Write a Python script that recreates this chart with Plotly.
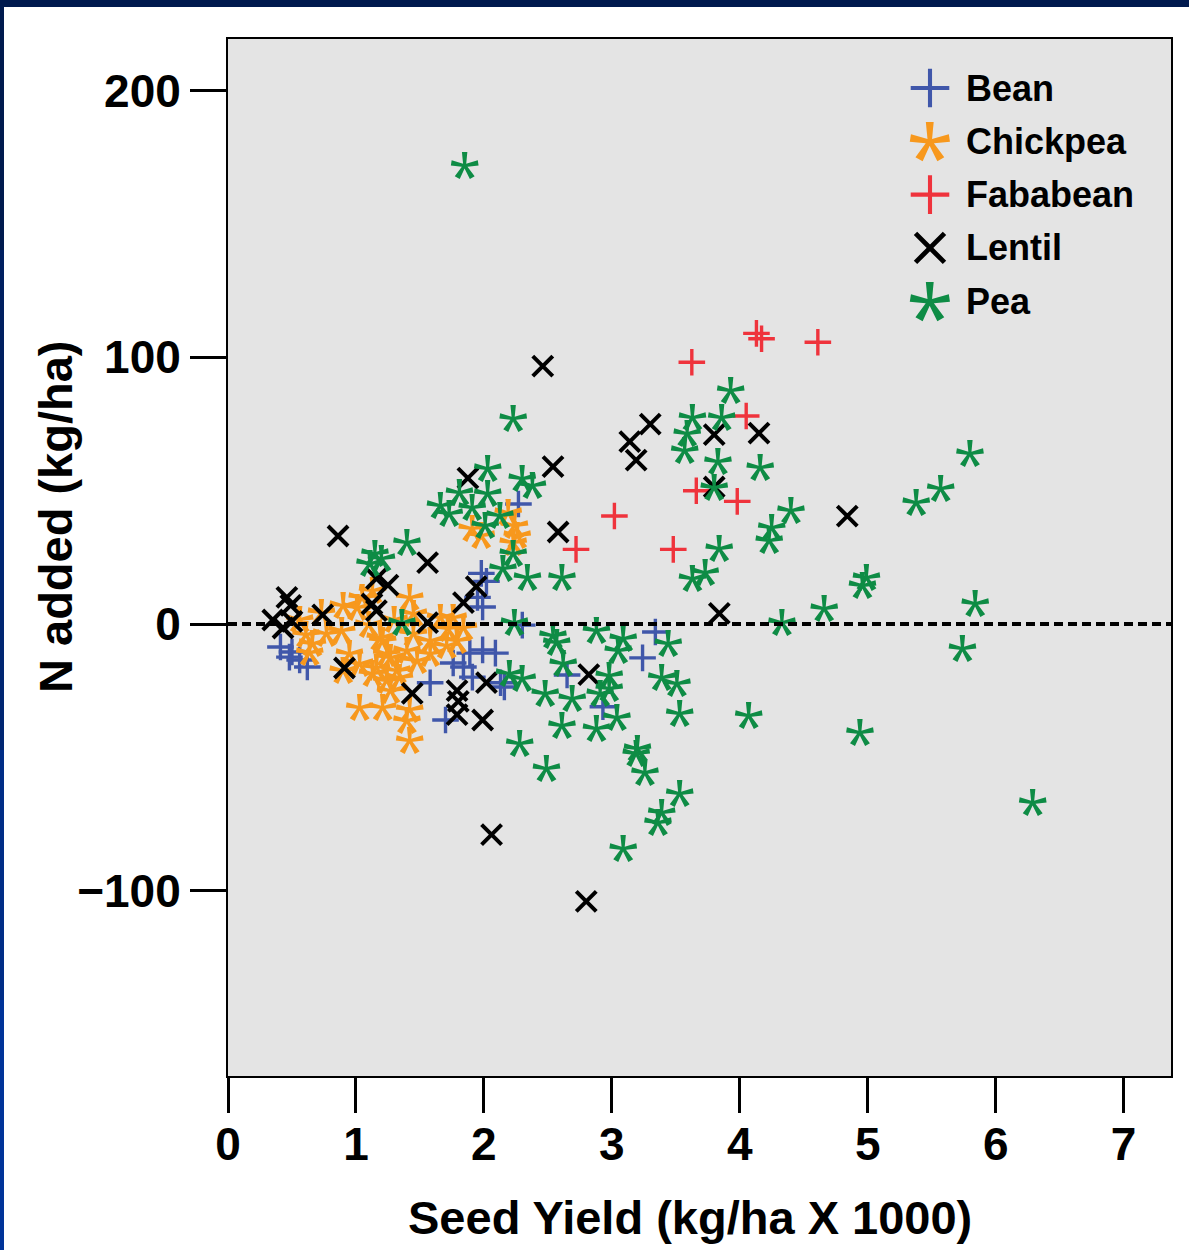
import plotly.graph_objects as go

# ---------------- data ----------------
species = ["Bean", "Chickpea", "Fababean", "Lentil", "Pea"]
colors = ["#4057AA", "#F7981D", "#EF333C", "#000000", "#0E8C45"]
kinds = ["plus", "star", "plus", "x", "star"]

bean_x = [0.41, 0.50, 0.48, 0.56, 0.62, 2.27, 1.98, 2.02, 1.95, 1.99, 2.30, 1.99, 2.09,
          1.89, 1.76, 1.84, 1.91, 2.13, 1.58, 1.70, 2.16, 2.65, 2.93, 3.24, 3.34]
bean_y = [-8.6, -10.5, -12.4, -13.5, -16.1, 45, 19, 16, 10, 6.4, -0.4, -9.7, -10.9,
          -10.9, -14.6, -16.1, -19.9, -22, -22, -36, -23.6, -19.1, -31, -12.7, -3]

chickpea_x = [0.61, 0.66, 0.64, 0.77, 0.73, 0.90, 1.01, 0.89, 0.95, 0.90, 1.03, 1.13, 1.19,
              1.24, 1.16, 1.24, 1.32, 1.21, 1.27, 1.34, 1.40, 1.45, 1.45, 1.48, 1.58, 1.58,
              1.72, 1.76, 1.84, 1.79, 1.03, 1.21, 1.42, 1.40, 1.42, 1.27, 1.13, 1.05, 1.42,
              1.91, 1.98, 2.19, 2.24, 2.26, 2.23, 0.56, 1.66, 1.71, 1.30, 1.10]
chickpea_y = [-3.7, -7.1, -10.5, -3.4, 4.5, 7.1, 6.4, -2.2, -10.9, -17.2, -14.6, -18.4, -4.9,
              -10.9, -16.1, -21, -17.2, -6, -12.4, -19.9, -9.7, 4.1, -3.4, -13.5, -10.9, -6,
              -1.5, 2.6, -1.1, -6, -31, -31, -32, -36, -43.5, -24.7, 12.7, 10, 10,
              36, 33.4, 42, 37, 33.4, 30.7, 2, 2.6, -8, 2, 0]

fababean_x = [3.625, 4.13, 4.17, 4.61, 4.05, 3.66, 3.98, 3.02, 2.72, 3.48]
fababean_y = [98.2, 109, 107, 105.7, 78, 50, 46, 40.5, 28, 28]

lentil_x = [2.46, 3.30, 3.14, 3.19, 3.80, 4.15, 3.80, 2.54, 1.875, 2.58, 4.84, 3.84, 0.86,
            1.56, 1.94, 1.84, 1.56, 0.35, 0.43, 0.50, 0.46, 0.49, 0.74, 1.16, 1.25, 1.125,
            1.16, 0.91, 1.44, 2.02, 1.79, 1.80, 1.79, 1.99, 2.06, 2.80, 2.82]
lentil_y = [96.7, 75, 68.4, 61.5, 71, 71.6, 51.4, 59, 54.7, 34.5, 40.5, 4, 33,
            23, 14, 8, 0.5, 1.5, -1.5, 1, 10, 7, 3.4, 17, 14.6, 7.5,
            5, -16.5, -26, -22, -25, -29, -34, -36, -79, -104, -19]

pea_x = [1.85, 3.93, 3.63, 3.86, 3.59, 3.57, 3.83, 4.16, 3.80, 4.40, 4.25, 4.23, 3.84, 3.73,
         3.63, 2.23, 2.03, 2.30, 2.38, 1.81, 1.66, 1.73, 2.03, 1.91, 2.125, 2.01, 2.23, 2.15,
         2.34, 2.61, 1.40, 4.66, 4.33, 2.24, 5.80, 5.57, 5.38, 4.99, 4.96, 5.84, 5.74, 4.07,
         4.94, 6.29, 2.54, 2.57, 2.88, 3.09, 3.05, 3.44, 2.62, 2.20, 2.30, 2.48, 2.69, 2.98,
         2.91, 2.98, 3.39, 3.51, 3.53, 3.04, 2.61, 2.88, 2.28, 2.49, 3.20, 3.19, 3.26, 3.53,
         3.39, 3.36, 3.09, 1.15, 1.20, 1.11, 1.36]
pea_y = [172, 87.7, 77.6, 77.6, 71.6, 65.2, 61.1, 58.9, 51.4, 42.7, 36.4, 31.5, 28.5, 19.5,
         17.2, 77.2, 58.5, 54.7, 52.1, 49.5, 44.6, 41.6, 49.1, 43.9, 40.9, 37.1, 26.6, 21.0,
         17.6, 17.6, 30.7, 6, 0.8, 0.8, 64, 51, 45.7, 17.6, 14.6, 7.9, -9, -34,
         -40.5, -66.7, -4, -6.7, -2.2, -5.4, -9.7, -7.2, -14.7, -18.4, -20.2, -26, -27.9, -19,
         -26, -24, -20, -22, -33.5, -35, -38, -39, -44.6, -54, -46.5, -48.4, -55.5, -63.4,
         -70.5, -74.2, -84, 26.6, 24.7, 22.9, 0.8]

xs_all = [bean_x, chickpea_x, fababean_x, lentil_x, pea_x]
ys_all = [bean_y, chickpea_y, fababean_y, lentil_y, pea_y]

x_ticks = [0, 1, 2, 3, 4, 5, 6, 7]
y_ticks = [-100, 0, 100, 200]
x_title = "Seed Yield (kg/ha X 1000)"
y_title = "N added (kg/ha)"

# ---------------- layout constants ----------------
W, H = 1189, 1250
ML, MR, MT, MB = 228, 18, 39, 174
PW, PH = W - ML - MR, H - MT - MB
FONT = "Liberation Sans, Arial, Helvetica, sans-serif"
STAR_FONT = "Open Sans"
STAR_CENTER = 0.55   # height of the asterisk glyph centre above the baseline, in em


def marker_traces(xs, ys, color, kind, scale, xa="x", ya="y"):
    """Scatter traces for one marker style (plus, x, or five-armed asterisk)."""
    if kind == "star":
        fa = int(round(60 * scale))                 # glyph font size
        fm = fa * STAR_CENTER / 0.9                 # line font size that centres the glyph
        txt = "\u00a0<br><span style='font-size:%dpx'>*</span>" % fa
        return [go.Scatter(x=xs, y=ys, mode="text", text=[txt] * len(xs),
                           textposition="middle center", xaxis=xa, yaxis=ya,
                           showlegend=False, hoverinfo="x+y",
                           textfont=dict(family=STAR_FONT, size=fm, color=color, weight=400))]
    if kind == "plus":
        sym, size, lw = "cross-thin", 19 * scale, 3.4 * scale ** 0.5
    else:
        sym, size, lw = "x-thin", 20 * scale, 4.0 * scale ** 0.5
    return [go.Scatter(x=xs, y=ys, mode="markers", xaxis=xa, yaxis=ya, showlegend=False,
                       marker=dict(symbol=sym, size=size, color=color,
                                   line=dict(width=lw, color=color)))]


fig = go.Figure()
for xs, ys, c, k in zip(xs_all, ys_all, colors, kinds):
    for t in marker_traces(xs, ys, c, k, 1.0):
        fig.add_trace(t)

# ---------------- legend drawn on an overlay axis measured in pixels ----------------
leg_x0 = 930 - ML
leg_text_x = 964 - ML
leg_y0 = 88 - MT
leg_step = 53.3
for i, (name, c, k) in enumerate(zip(species, colors, kinds)):
    yy = leg_y0 + i * leg_step
    for t in marker_traces([leg_x0], [yy], c, k, 1.45, xa="x2", ya="y2"):
        fig.add_trace(t)
    fig.add_annotation(x=leg_text_x, y=yy, xref="x2", yref="y2", text=name,
                       showarrow=False, xanchor="left", yanchor="middle",
                       font=dict(family=FONT, size=36, color="black", weight="bold"))

axis_common = dict(showgrid=False, zeroline=False, showline=True, linecolor="black",
                   linewidth=2, mirror=True, ticks="outside", tickcolor="black",
                   tickwidth=2.5,
                   tickfont=dict(family=FONT, size=46, color="black", weight="bold"))

fig.update_layout(
    width=W, height=H,
    margin=dict(l=ML, r=MR, t=MT, b=MB, autoexpand=False),
    paper_bgcolor="white", plot_bgcolor="#E4E4E4",
    showlegend=False,
    xaxis=dict(range=[0, 7.37], tickvals=x_ticks, ticklen=35, ticklabelstandoff=-8,
               **axis_common),
    yaxis=dict(range=[-169.5, 219.4], tickvals=y_ticks, ticklen=36, **axis_common),
    xaxis2=dict(overlaying="x", range=[0, PW], visible=False, anchor="y2"),
    yaxis2=dict(overlaying="y", range=[PH, 0], visible=False, anchor="x2"),
)

# dashed zero line
fig.add_shape(type="line", xref="paper", x0=0, x1=1, yref="y", y0=0, y1=0,
              line=dict(color="black", width=4, dash="9px,5px"), layer="above")

# axis titles
fig.add_annotation(text=x_title, xref="paper", yref="paper",
                   x=(690 - ML) / PW, y=(H - 1217 - MB) / PH,
                   showarrow=False, xanchor="center", yanchor="middle",
                   font=dict(family=FONT, size=47, color="black", weight="bold"))
fig.add_annotation(text=y_title, xref="paper", yref="paper", textangle=-90,
                   x=(55 - ML) / PW, y=(H - 517 - MB) / PH,
                   showarrow=False, xanchor="center", yanchor="middle",
                   font=dict(family=FONT, size=47, color="black", weight="bold"))


def px_x(p):
    return (p - ML) / PW


def px_y(p):
    return (H - p - MB) / PH


# navy frame pieces along the top and left edges
fig.add_shape(type="rect", xref="paper", yref="paper", x0=px_x(0), x1=px_x(W),
              y0=px_y(7), y1=px_y(0), fillcolor="#001A4E", line=dict(width=0), layer="above")
left_cols = ["#001A4E", "#001F60", "#002672", "#002D86", "#003399"]
seg = H / len(left_cols)
for i, c in enumerate(left_cols):
    fig.add_shape(type="rect", xref="paper", yref="paper", x0=px_x(0), x1=px_x(4),
                  y0=px_y((i + 1) * seg), y1=px_y(i * seg), fillcolor=c,
                  line=dict(width=0), layer="above")

fig.write_html("out.html", post_script="document.body.style.margin='0';",
               config={"displayModeBar": False})
